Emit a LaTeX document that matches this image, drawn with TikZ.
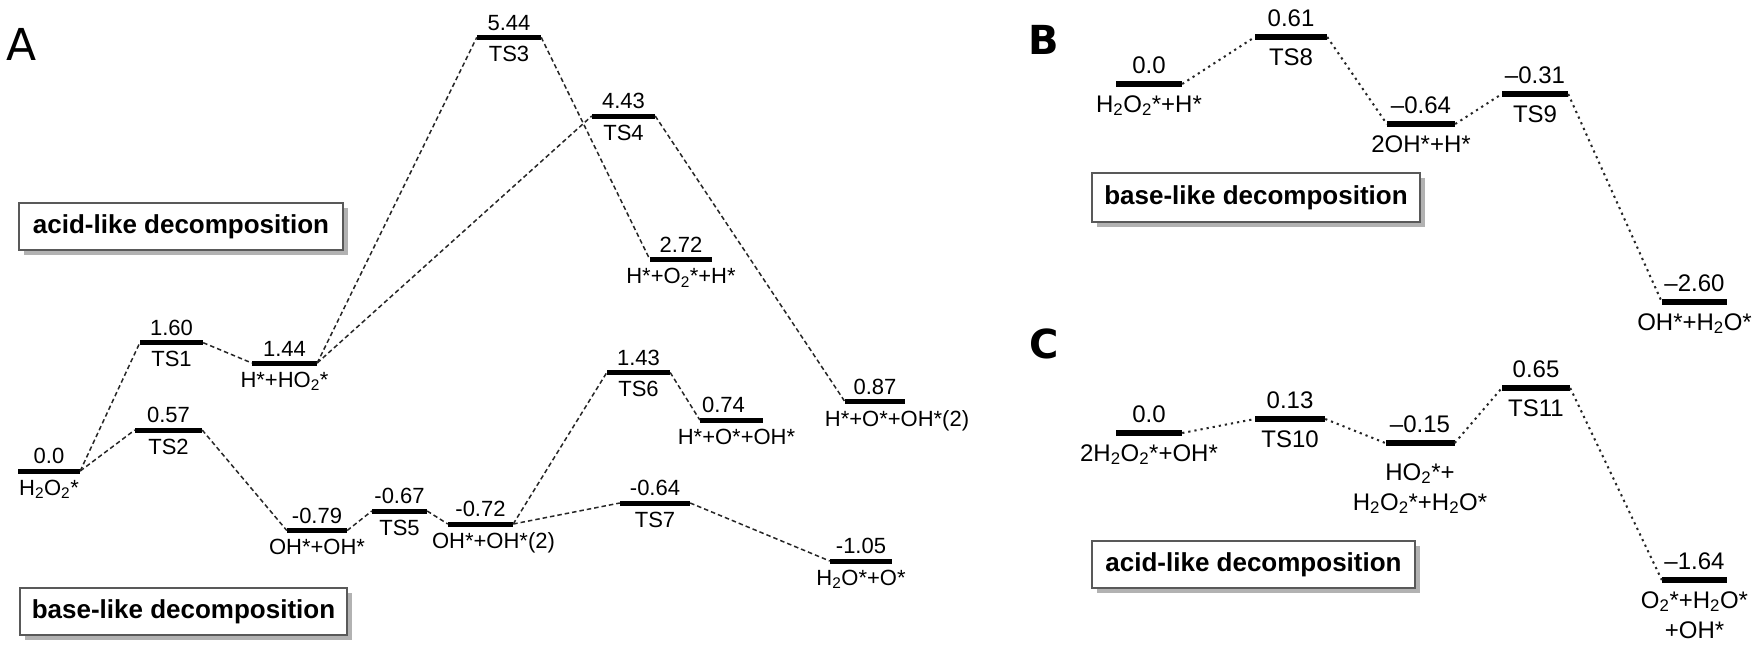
\documentclass[tikz,border=0pt]{standalone}
\usepackage{fontspec}
\setmainfont{Liberation Sans}
\newfontfamily\dejavufont{DejaVu Sans}
\usetikzlibrary{shadows}
\newcommand\sbs[1]{\textsubscript{#1}}
\begin{document}
\begin{tikzpicture}[x=1pt,y=-1pt,
  barA/.style={fill=black, inner sep=0pt, minimum height=5pt, minimum width=#1},
  barB/.style={fill=black, inner sep=0pt, minimum height=6pt, minimum width=#1},
  tA/.style={font=\fontsize{22}{24}\selectfont, inner sep=1pt, label distance=3pt},
  tAb/.style={font=\fontsize{22}{24}\selectfont, inner sep=1pt, label distance=5pt},
  tB/.style={font=\fontsize{24}{30}\selectfont, inner sep=1pt, label distance=6pt, align=center},
  tBb/.style={font=\fontsize{24}{30}\selectfont, inner sep=1pt, label distance=7pt, align=center},
  lnA/.style={line width=1.5pt, dash pattern=on 4.5pt off 3pt, black!85},
  lnB/.style={line width=2pt, dash pattern=on 2.2pt off 4pt, black!85},
  boxstyle/.style={draw=black!65, line width=1.5pt, fill=white, inner sep=0pt,
    font=\bfseries\fontsize{26}{28}\selectfont,
    drop shadow={shadow xshift=5pt, shadow yshift=-5pt, fill=black!30, opacity=1}},
  letter/.style={font=\dejavufont\bfseries\fontsize{40}{42}\selectfont, inner sep=0pt}
]
\useasboundingbox[fill=white] (0,0) rectangle (1755,649);

% panel letters
\node[font=\dejavufont\fontsize{44}{46}\selectfont, inner sep=0pt] (lA) at (22,44) {A};
\node[letter] (lB) at (1044,40) {B};
\node[letter] (lC) at (1044,343.5) {C};

% ---------- panel A ----------
\node[barA=62pt, label={[tA]above:0.0}, label={[tAb]below:H\sbs{2}O\sbs{2}*}] (a0) at (49,471) {};
\node[barA=63pt, label={[tA]above:1.60}, label={[tAb]below:TS1}] (ts1) at (171.5,342.7) {};
\node[barA=65pt, label={[tA]above:1.44}, label={[tAb]below:H*+HO\sbs{2}*}] (a144) at (284.5,363) {};
\node[barA=67pt, label={[tA]above:0.57}, label={[tAb]below:TS2}] (ts2) at (168.5,430) {};
\node[barA=60pt, label={[tA]above:-0.79}, label={[tAb]below:OH*+OH*}] (a079) at (317,530.5) {};
\node[barA=55pt, label={[tA]above:-0.67}, label={[tAb]below:TS5}] (ts5) at (399.5,511) {};
\node[barA=65pt, label={[tA]above:-0.72}, label={[tAb,xshift=13pt]below:OH*+OH*(2)}] (a072) at (480.5,524) {};
\node[barA=64pt, label={[tA]above:5.44}, label={[tAb]below:TS3}] (ts3) at (509,37.3) {};
\node[barA=63pt, label={[tA]above:4.43}, label={[tAb]below:TS4}] (ts4) at (623.5,116) {};
\node[barA=62pt, label={[tA]above:2.72}, label={[tAb]below:H*+O\sbs{2}*+H*}] (a272) at (681,259.5) {};
\node[barA=63pt, label={[tA]above:1.43}, label={[tAb]below:TS6}] (ts6) at (638.5,372.5) {};
\node[barA=63pt, label={[tA,xshift=-8pt]above:0.74}, label={[tAb,xshift=5pt]below:H*+O*+OH*}] (a074) at (731.5,420) {};
\node[barA=70pt, label={[tA]above:-0.64}, label={[tAb]below:TS7}] (ts7) at (655,503) {};
\node[barA=60pt, label={[tA]above:0.87}, label={[tAb,xshift=22pt]below:H*+O*+OH*(2)}] (a087) at (875,401.5) {};
\node[barA=62pt, label={[tA]above:-1.05}, label={[tAb]below:H\sbs{2}O*+O*}] (a105) at (861,561) {};

\draw[lnA] (a0.east) -- (ts1.west);
\draw[lnA] (a0.east) -- (ts2.west);
\draw[lnA] (ts1.east) -- (a144.west);
\draw[lnA] (a144.east) -- (ts3.west);
\draw[lnA] (a144.east) -- (ts4.west);
\draw[lnA] (ts3.east) -- (a272.west);
\draw[lnA] (ts4.east) -- (a087.west);
\draw[lnA] (ts2.east) -- (a079.west);
\draw[lnA] (a079.east) -- (ts5.west);
\draw[lnA] (ts5.east) -- (a072.west);
\draw[lnA] (a072.east) -- (ts6.west);
\draw[lnA] (a072.east) -- (ts7.west);
\draw[lnA] (ts6.east) -- (a074.west);
\draw[lnA] (ts7.east) -- (a105.west);

\node[boxstyle, minimum width=324pt, minimum height=47pt] (acidA) at (181,226.5) {acid-like decomposition};
\node[boxstyle, minimum width=327pt, minimum height=47pt] (baseA) at (183.5,611.5) {base-like decomposition};

% ---------- panel B ----------
\node[barB=66pt, label={[tB]above:0.0}, label={[tBb]below:H\sbs{2}O\sbs{2}*+H*}] (b0) at (1149,84) {};
\node[barB=72pt, label={[tB]above:0.61}, label={[tBb]below:TS8}] (ts8) at (1291,37) {};
\node[barB=68pt, label={[tB]above:–0.64}, label={[tBb]below:2OH*+H*}] (b064) at (1421,124) {};
\node[barB=66pt, label={[tB]above:–0.31}, label={[tBb]below:TS9}] (ts9) at (1535,94) {};
\node[barB=65pt, label={[tB]above:–2.60}, label={[tBb]below:OH*+H\sbs{2}O*}] (b260) at (1694.5,302) {};

\draw[lnB] (b0.east) -- (ts8.west);
\draw[lnB] (ts8.east) -- (b064.west);
\draw[lnB] (b064.east) -- (ts9.west);
\draw[lnB] (ts9.east) -- (b260.west);

\node[boxstyle, minimum width=328pt, minimum height=49pt] (baseB) at (1256,197.5) {base-like decomposition};

% ---------- panel C ----------
\node[barB=66pt, label={[tB]above:0.0}, label={[tBb]below:2H\sbs{2}O\sbs{2}*+OH*}] (c0) at (1149,433) {};
\node[barB=70pt, label={[tB]above:0.13}, label={[tBb]below:TS10}] (ts10) at (1290,419) {};
\node[barB=69pt, label={[tB]above:–0.15}, label={[tB,label distance=16pt]below:HO\sbs{2}*+\\H\sbs{2}O\sbs{2}*+H\sbs{2}O*}] (c015) at (1420,443) {};
\node[barB=68pt, label={[tB]above:0.65}, label={[tBb]below:TS11}] (ts11) at (1536,388) {};
\node[barB=65pt, label={[tB]above:–1.64}, label={[tBb]below:O\sbs{2}*+H\sbs{2}O*\\+OH*}] (c164) at (1694.5,580) {};

\draw[lnB] (c0.east) -- (ts10.west);
\draw[lnB] (ts10.east) -- (c015.west);
\draw[lnB] (c015.east) -- (ts11.west);
\draw[lnB] (ts11.east) -- (c164.west);

\node[boxstyle, minimum width=323pt, minimum height=47pt] (acidC) at (1253.5,564.5) {acid-like decomposition};
\end{tikzpicture}
\end{document}
